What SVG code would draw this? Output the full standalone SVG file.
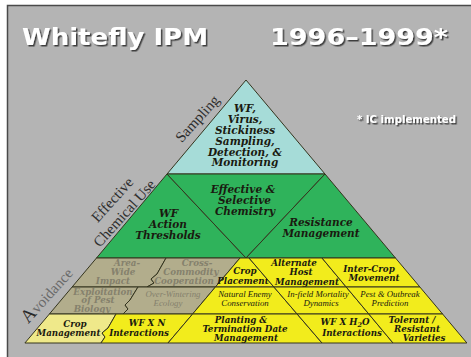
<svg xmlns="http://www.w3.org/2000/svg" width="471" height="357" viewBox="0 0 471 357">
<defs>
<filter id="sh" x="-5%" y="-20%" width="115%" height="150%"><feDropShadow dx="1.5" dy="1.5" stdDeviation="0.7" flood-color="#2a2a2a" flood-opacity="0.85"/></filter>
<style>
.ttl{font-family:"DejaVu Sans",sans-serif;font-weight:bold;fill:#fff}
.side{font-family:"Liberation Serif",serif;fill:#2e2e2e;text-anchor:middle}
.t{font-family:"DejaVu Serif",serif;font-weight:bold;font-style:italic;fill:#1a1a10;text-anchor:middle}
.b{font-size:10.5px}
.y{font-size:8.7px}
.r{font-family:"Liberation Serif",serif;font-weight:normal;font-size:8.8px}
.tan{fill:#85816c}
.cell{stroke:#34341e;stroke-width:1;stroke-linejoin:round}
.blue{fill:#a6dcd8}
.green{fill:#2fb35b}
.yel{fill:#f2ec1c}
.ly{fill:#efe98a}
.khaki{fill:#b2ad8c}
</style>
</defs>
<rect x="0" y="0" width="471" height="357" fill="#fff"/>
<rect x="7" y="5" width="464" height="352" fill="#b4b4b4"/>
<path d="M7.5 357 V5.5 H471" fill="none" stroke="#4a4a4a" stroke-width="1.5"/>

<g id="title">
<text class="ttl" x="22" y="45" font-size="23" textLength="186" lengthAdjust="spacingAndGlyphs" filter="url(#sh)">Whitefly IPM</text>
<text class="ttl" x="270" y="45" font-size="23" textLength="178" lengthAdjust="spacingAndGlyphs" filter="url(#sh)">1996–1999*</text>
<text class="ttl" x="357" y="123" font-size="10.5" textLength="99" lengthAdjust="spacingAndGlyphs" filter="url(#sh)">* IC implemented</text>
</g>

<g id="side-labels">
<text class="side" font-size="15" transform="translate(201,122) rotate(-48)">Sampling</text>
<text class="side" font-size="15" transform="translate(116,203) rotate(-48)">Effective</text>
<text class="side" font-size="15" transform="translate(128,216.5) rotate(-48)">Chemical Use</text>
<text class="side" font-size="15" transform="translate(51,299) rotate(-48)"><tspan font-size="19" fill="#2a2a2a">A</tspan><tspan fill="#6a6a6a">voidance</tspan></text>
</g>

<g id="monitoring">
<polygon class="cell blue" points="246,80 325,174 167,174"/>
<text class="t b" x="245" y="111.5">WF,</text>
<text class="t b" x="245" y="122.5">Virus,</text>
<text class="t b" x="245" y="133.5">Stickiness</text>
<text class="t b" x="245" y="144.5">Sampling,</text>
<text class="t b" x="245" y="155.5">Detection, &amp;</text>
<text class="t b" x="245" y="166">Monitoring</text>
</g>

<g id="thresholds">
<polygon class="cell green" points="167,174 246,258 96.5,258"/>
<text class="t b" x="168.5" y="216.5">WF</text>
<text class="t b" x="168" y="227.5">Action</text>
<text class="t b" x="168" y="238.5">Thresholds</text>
</g>
<g id="chemistry">
<polygon class="cell green" points="167,174 325,174 246,258"/>
<text class="t b" x="243" y="192.5">Effective &amp;</text>
<text class="t b" x="244.5" y="203.5">Selective</text>
<text class="t b" x="245" y="214.5">Chemistry</text>
</g>
<g id="resistance">
<polygon class="cell green" points="325,174 395.5,258 246,258"/>
<text class="t b" x="321" y="225.5">Resistance</text>
<text class="t b" x="321" y="236.5">Management</text>
</g>

<g id="area-wide">
<polygon class="cell khaki" points="96.5,258 166,258 157,274 151,279 154,283 147,287 72.1,287"/>
<text class="t y tan" x="127" y="266">Area-</text>
<text class="t y tan" x="123" y="275">Wide</text>
<text class="t y tan" x="113" y="284">Impact</text>
</g>
<g id="cross-commodity">
<polygon class="cell khaki" points="166,258 240,258 215.4,287 147,287 154,283 151,279 157,274"/>
<text class="t y tan" x="197" y="266">Cross-</text>
<text class="t y tan" x="191" y="275">Commodity</text>
<text class="t y tan" x="184" y="284">Cooperation</text>
</g>
<g id="crop-placement">
<polygon class="cell yel" points="240,258 249,258 273.9,287 215.4,287"/>
<text class="t y" x="245" y="274">Crop</text>
<text class="t y" x="243" y="284">Placement</text>
</g>
<g id="alternate-host">
<polygon class="cell yel" points="249,258 322,258 346.2,287 273.9,287"/>
<text class="t y" x="294" y="265.5">Alternate</text>
<text class="t y" x="301" y="275">Host</text>
<text class="t y" x="307" y="284.5">Management</text>
</g>
<g id="inter-crop">
<polygon class="cell yel" points="322,258 395.5,258 419.9,287 346.2,287"/>
<text class="t y" x="369" y="271.5">Inter-Crop</text>
<text class="t y" x="374" y="280.5">Movement</text>
</g>

<g id="exploitation">
<polygon class="cell khaki" points="72.1,287 138,287 130,300 125,305 128,309 123,314 49.4,314"/>
<text class="t y tan" x="103" y="294.5">Exploitation</text>
<text class="t y tan" x="98" y="303">of Pest</text>
<text class="t y tan" x="92" y="311.5">Biology</text>
</g>
<g id="over-wintering">
<polygon class="cell khaki" points="138,287 215.4,287 192.6,314 123,314 128,309 125,305 130,300"/>
<text class="t r tan" x="173" y="297">Over-Wintering</text>
<text class="t r tan" x="168" y="306">Ecology</text>
</g>
<g id="natural-enemy">
<polygon class="cell yel" points="215.4,287 273.9,287 297.1,314 192.6,314"/>
<text class="t r" x="245" y="297">Natural Enemy</text>
<text class="t r" x="245" y="306">Conservation</text>
</g>
<g id="infield-mortality">
<polygon class="cell yel" points="273.9,287 346.2,287 368.8,314 297.1,314"/>
<text class="t r" x="318" y="297">In-field Mortality</text>
<text class="t r" x="321" y="306">Dynamics</text>
</g>
<g id="pest-outbreak">
<polygon class="cell yel" points="346.2,287 419.9,287 442.6,314 368.8,314"/>
<text class="t r" x="390" y="297">Pest &amp; Outbreak</text>
<text class="t r" x="390" y="306">Prediction</text>
</g>

<g id="crop-management">
<polygon class="cell ly" points="49.4,314 116,314 108,328 102,333 105,337 101,343 24.9,343"/>
<text class="t y" x="75" y="326.5">Crop</text>
<text class="t y" x="68.5" y="336">Management</text>
</g>
<g id="wf-n">
<polygon class="cell yel" points="116,314 192.6,314 168,343 101,343 105,337 102,333 108,328"/>
<text class="t y" x="147" y="326">WF X N</text>
<text class="t y" x="139" y="336">Interactions</text>
</g>
<g id="planting">
<polygon class="cell yel" points="192.6,314 297.1,314 322,343 168,343"/>
<text class="t y" x="241" y="323">Planting &amp;</text>
<text class="t y" x="245" y="332">Termination Date</text>
<text class="t y" x="246" y="341">Management</text>
</g>
<g id="wf-h2o">
<polygon class="cell yel" points="297.1,314 368.8,314 393,343 322,343"/>
<text class="t y" x="345" y="325">WF X H<tspan font-size="6.5" dy="2">2</tspan><tspan dy="-2">O</tspan></text>
<text class="t y" x="352" y="336">Interactions</text>
</g>
<g id="tolerant">
<polygon class="cell yel" points="368.8,314 442.6,314 466.9,343 393,343"/>
<text class="t y" x="412" y="323">Tolerant /</text>
<text class="t y" x="417" y="332">Resistant</text>
<text class="t y" x="424" y="341">Varieties</text>
</g>

<g id="connectors"></g>
</svg>
